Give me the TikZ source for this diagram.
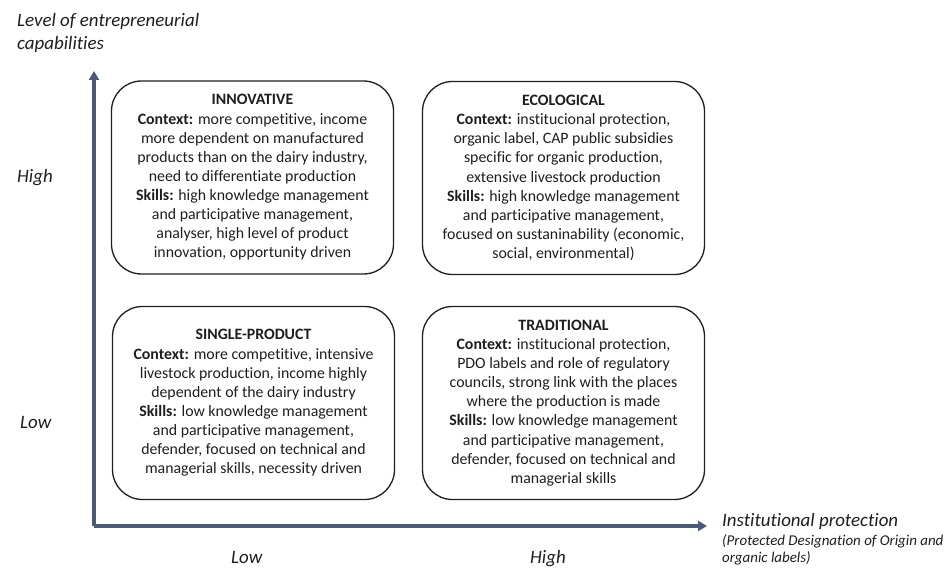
\documentclass[tikz,border=0pt]{standalone}
\usepackage{fontspec}
\setmainfont[Ligatures=NoCommon]{Carlito}
\usetikzlibrary{arrows.meta}
\definecolor{axiscol}{HTML}{4A5A78}
\definecolor{boxcol}{HTML}{1E1E1E}
\tikzset{
  quad/.style={draw=boxcol, line width=1.3bp, rounded corners=30bp, minimum width=282bp, minimum height=193bp, align=center, inner sep=0pt, font=\fontsize{15.9}{19.2}\selectfont, text=boxcol},
  axis/.style={draw=axiscol, line width=3.2bp, line join=miter, -{Triangle[length=9bp,width=10bp]}},
  axlab/.style={inner sep=0pt, font=\fontsize{19}{24}\selectfont\itshape, text=boxcol},
  sublab/.style={inner sep=0pt, font=\fontsize{15}{16}\selectfont\itshape, text=boxcol},
}
\begin{document}
\begin{tikzpicture}[x=1bp,y=-1bp]
\useasboundingbox (0,0) rectangle (952,568);
\coordinate (org) at (94,526);
\coordinate (ytip) at (94,71);
\coordinate (xtip) at (707,526);
\draw[axis] (org) -- (ytip);
\draw[axis] (org) -- (xtip);
\node[quad] (inn) at (252.5,177.5) {\textbf{INNOVATIVE}\\\textbf{Context:} more competitive, income\\more dependent on manufactured\\products than on the dairy industry,\\need to differentiate production\\\textbf{Skills:} high knowledge management\\and participative management,\\analyser, high level of product\\innovation, opportunity driven};
\node[quad] (eco) at (563.5,178) {\textbf{ECOLOGICAL}\\\textbf{Context:} institucional protection,\\organic label, CAP public subsidies\\specific for organic production,\\extensive livestock production\\\textbf{Skills:} high knowledge management\\and participative management,\\focused on sustaninability (economic,\\social, environmental)};
\node[quad] (sin) at (253.5,403) {\textbf{SINGLE-PRODUCT}\\\textbf{Context:} more competitive, intensive\\livestock production, income highly\\dependent of the dairy industry\\\textbf{Skills:} low knowledge management\\and participative management,\\defender, focused on technical and\\managerial skills, necessity driven};
\node[quad] (tra) at (563.5,403) {\textbf{TRADITIONAL}\\\textbf{Context:} institucional protection,\\PDO labels and role of regulatory\\councils, strong link with the places\\where the production is made\\\textbf{Skills:} low knowledge management\\and participative management,\\defender, focused on technical and\\managerial skills};
\node[axlab, anchor=base west] (ylab1) at (17,27) {Level of entrepreneurial};
\node[axlab, anchor=base west] (ylab2) at (17,50) {capabilities};
\node[axlab, anchor=base west] (yhigh) at (17,183) {High};
\node[axlab, anchor=base west] (ylow) at (20,428) {Low};
\node[axlab, anchor=base west] (xlow) at (231,563) {Low};
\node[axlab, anchor=base west] (xhigh) at (530,563) {High};
\node[axlab, anchor=base west] (xlab) at (722,526) {Institutional protection};
\node[sublab, anchor=base west] (xsub1) at (722,545) {(Protected Designation of Origin and};
\node[sublab, anchor=base west] (xsub2) at (722,562) {organic labels)};
\end{tikzpicture}
\end{document}
